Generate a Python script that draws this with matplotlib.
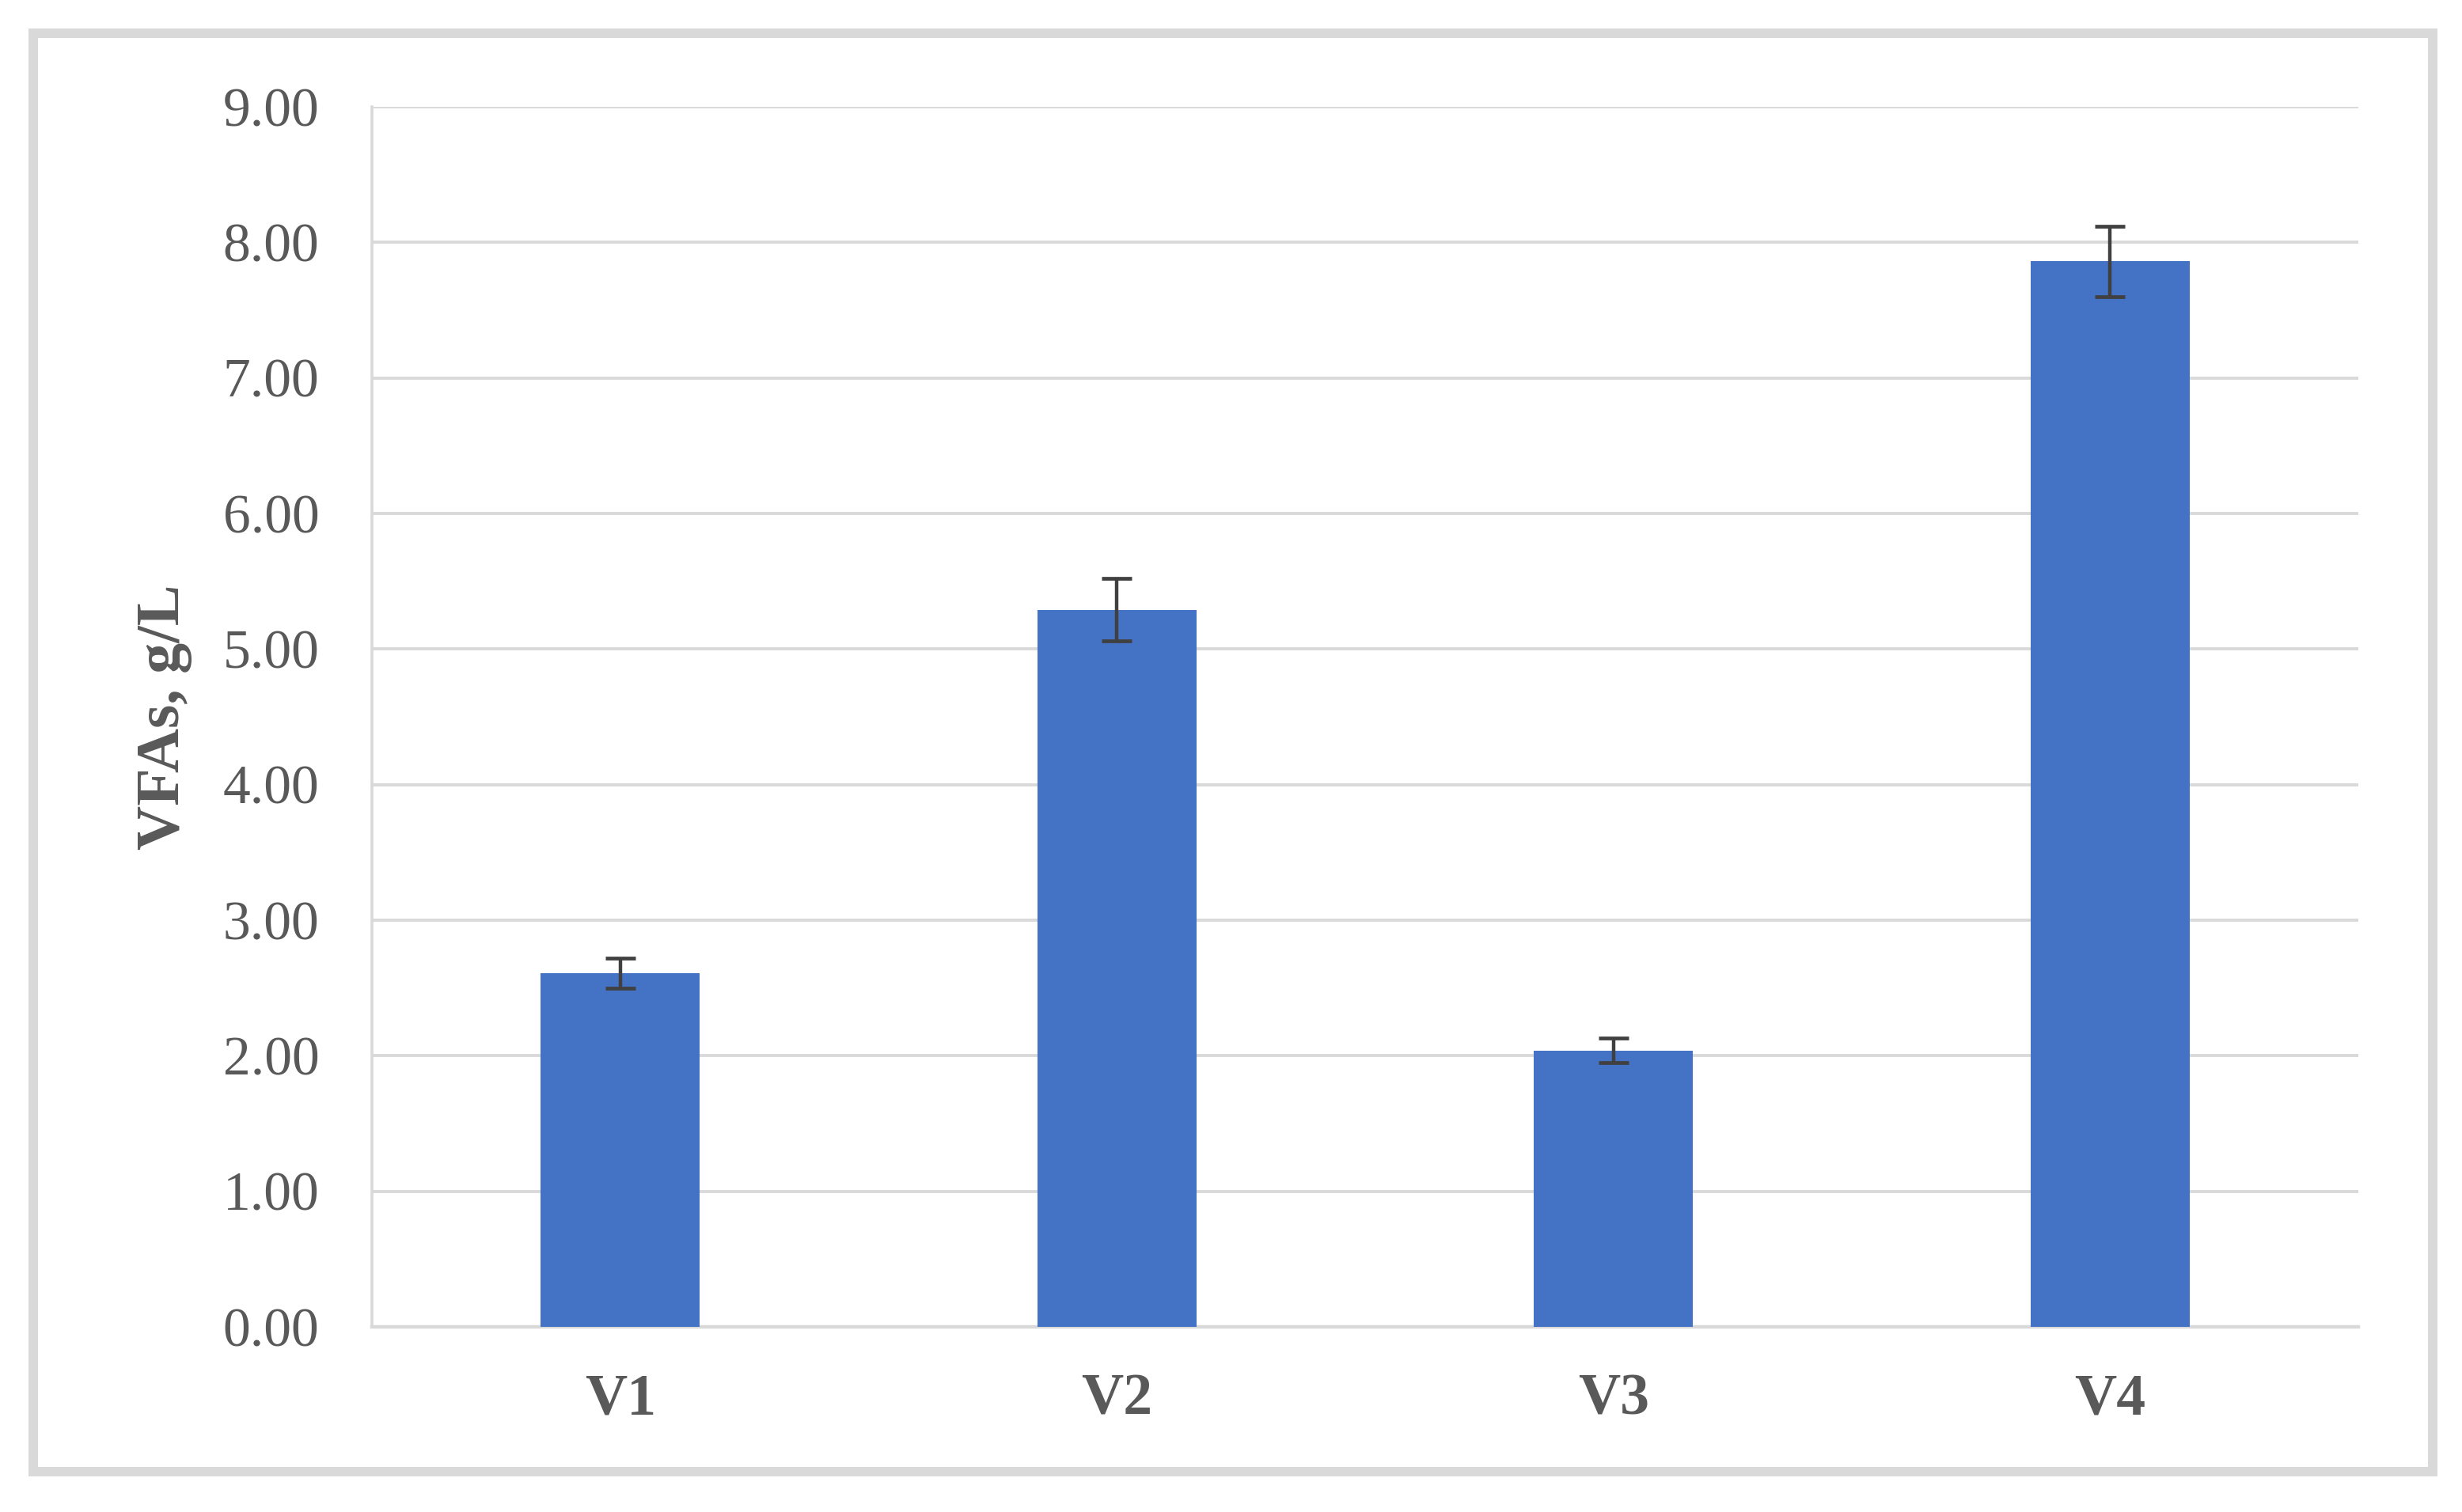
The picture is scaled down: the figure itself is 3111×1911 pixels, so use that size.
import matplotlib
matplotlib.use("Agg")
import matplotlib.pyplot as plt
import numpy as np
from matplotlib.patches import Rectangle

# Data
categories = ['V1', 'V2', 'V3', 'V4']
vfa_means = [2.61, 5.29, 2.04, 7.86]
vfa_errors = [0.11, 0.23, 0.09, 0.26]
y_ticks = [0, 1, 2, 3, 4, 5, 6, 7, 8, 9]

plt.rcParams['font.family'] = ['Liberation Serif', 'DejaVu Serif']

bar_color = '#4472C4'
text_color = '#595959'
grid_color = '#D9D9D9'

fig = plt.figure(figsize=(31.11, 19.11), dpi=100)
ax = fig.add_axes([0.1511, 0.1224, 0.8068, 0.807])

positions = np.arange(len(categories)) + 0.5
ax.bar(positions, vfa_means, width=0.32, color=bar_color, zorder=3)
ax.errorbar(positions, vfa_means, yerr=vfa_errors, fmt='none',
            ecolor='#404040', elinewidth=3.2, capsize=14, capthick=3.4, zorder=4)

ax.set_xlim(0, len(categories))
ax.set_ylim(0, 9)
ax.set_yticks(y_ticks)
ax.set_yticklabels([f'{t:.2f}' for t in y_ticks])
ax.set_xticks(positions)
ax.set_xticklabels(categories, fontweight='bold')

ax.tick_params(axis='y', length=0, pad=48, labelsize=50, labelcolor=text_color)
ax.tick_params(axis='x', length=0, pad=42, labelsize=53, labelcolor=text_color)

ax.set_ylabel('VFAs, g/L', fontsize=56, fontweight='bold', color=text_color, labelpad=28)

# Excel-like styling
ax.grid(axis='y', color=grid_color, linewidth=2.8, zorder=0)
ax.set_axisbelow(True)
for side in ['top', 'right']:
    ax.spines[side].set_visible(False)
ax.spines['left'].set_color(grid_color)
ax.spines['left'].set_linewidth(2.6)
ax.spines['bottom'].set_color(grid_color)
ax.spines['bottom'].set_linewidth(3.2)

# Outer chart frame
fig.patches.append(Rectangle((42 / 3111, 1 - 1860 / 1911), (3074 - 42) / 3111, (1860 - 42) / 1911,
                             transform=fig.transFigure, fill=False,
                             edgecolor=grid_color, linewidth=8.6))

fig.savefig('out.png', dpi=100)
